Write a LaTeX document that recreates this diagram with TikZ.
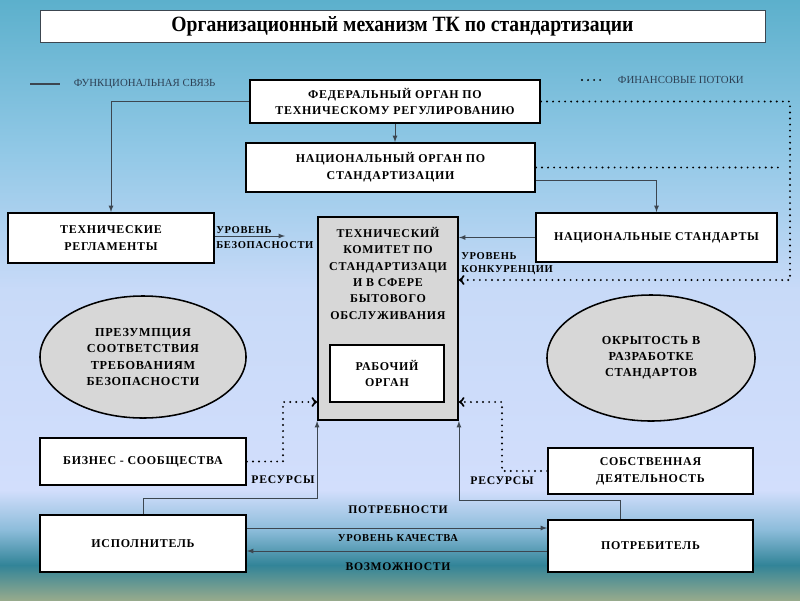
\documentclass[tikz,border=0pt]{standalone}
\usepackage{fontspec}
\setmainfont{Liberation Serif}
\newfontfamily\boxfont[LetterSpace=6]{Liberation Serif}
\newfontfamily\titlefont[FakeStretch=0.9]{Liberation Serif}
\usetikzlibrary{arrows,positioning,shapes.geometric}

\definecolor{bgA}{RGB}{92,176,204}
\definecolor{bgB}{RGB}{145,200,230}
\definecolor{bgC}{RGB}{200,218,248}
\definecolor{bgD}{RGB}{210,222,252}
\definecolor{bgE}{RGB}{140,188,218}
\definecolor{bgF}{RGB}{50,132,152}
\definecolor{bgG}{RGB}{150,170,140}
\definecolor{linkgray}{RGB}{60,70,80}
\definecolor{legendtext}{RGB}{45,65,85}
\definecolor{ovalgray}{RGB}{215,215,215}

\begin{document}
\begin{tikzpicture}[x=0.025cm,y=-0.025cm,>=latex,
	box/.style={draw,line width=1.3pt,fill=white,align=center,inner sep=0pt,
		font=\boxfont\bfseries\fontsize{8.5}{12}\selectfont},
	oval/.style={ellipse,draw,line width=1.1pt,fill=ovalgray,align=center,inner sep=0pt,
		font=\boxfont\bfseries\fontsize{8.7}{11.4}\selectfont},
	lbl/.style={font=\boxfont\bfseries\fontsize{7.5}{9}\selectfont,inner sep=0pt},
	biglbl/.style={font=\boxfont\bfseries\fontsize{8.3}{9}\selectfont,inner sep=0pt},
	link/.style={draw=linkgray,line width=.6pt,->},
	money/.style={line width=1.5pt,line cap=round,dash pattern=on 0pt off 4.3pt,>=to,->}]
	% background
	\shade[top color=bgA,bottom color=bgB] (0,0) rectangle (800,150);
	\shade[top color=bgB,bottom color=bgC] (0,150) rectangle (800,290);
	\shade[top color=bgC,bottom color=bgD] (0,290) rectangle (800,490);
	\shade[top color=bgD,bottom color=bgE] (0,490) rectangle (800,530);
	\shade[top color=bgE,bottom color=bgF] (0,530) rectangle (800,565);
	\shade[top color=bgF,bottom color=bgG] (0,565) rectangle (800,600);
	\useasboundingbox (0,0) rectangle (800,600);

	\node[draw=linkgray,fill=white,minimum width=18.125cm,minimum height=.8cm,
		font=\titlefont\bfseries\fontsize{15.5}{17}\selectfont] (title) at (402.5,26)
		{Организационный механизм ТК по стандартизации};

	% legend
	\draw[linkgray,thick] (30,84) -- (60,84);
	\node[anchor=west,legendtext,font=\fontsize{7.7}{9}\selectfont] (leg1) at (69,84) {ФУНКЦИОНАЛЬНАЯ СВЯЗЬ};
	\draw[money,-] (582,80) -- (600.5,80);
	\node[anchor=west,legendtext,font=\fontsize{7.7}{9}\selectfont] (leg2) at (613,80) {ФИНАНСОВЫЕ ПОТОКИ};

	% boxes
	\node[box,minimum width=7.25cm,minimum height=1.075cm] (fed) at (395,101.5)
		{ФЕДЕРАЛЬНЫЙ ОРГАН ПО\\ТЕХНИЧЕСКОМУ РЕГУЛИРОВАНИЮ};
	\node[box,minimum width=7.225cm,minimum height=1.225cm] (nat) at (390.5,167.5)
		{НАЦИОНАЛЬНЫЙ ОРГАН ПО\\СТАНДАРТИЗАЦИИ};
	\node[box,minimum width=5.15cm,minimum height=1.25cm] (treg) at (111,238)
		{ТЕХНИЧЕСКИЕ\\РЕГЛАМЕНТЫ};
	\node[box,minimum width=6.025cm,minimum height=1.225cm] (nstd) at (656.5,237.5)
		{НАЦИОНАЛЬНЫЕ СТАНДАРТЫ};
	\node[box,fill=ovalgray,minimum width=3.5cm,minimum height=5.075cm] (tc) at (388,318.5) {};
	\node[anchor=north,align=center,font=\boxfont\bfseries\fontsize{8.5}{11.7}\selectfont] (tctext) at (388,222)
		{ТЕХНИЧЕСКИЙ\\КОМИТЕТ ПО\\СТАНДАРТИЗАЦИ\\И В СФЕРЕ\\БЫТОВОГО\\ОБСЛУЖИВАНИЯ};
	\node[box,minimum width=2.85cm,minimum height=1.425cm] (work) at (387,373.5) {РАБОЧИЙ\\ОРГАН};
	\node[oval,minimum width=5.15cm,minimum height=3.05cm] (presump) at (143,357)
		{ПРЕЗУМПЦИЯ\\СООТВЕТСТВИЯ\\ТРЕБОВАНИЯМ\\БЕЗОПАСНОСТИ};
	\node[oval,minimum width=5.2cm,minimum height=3.15cm] (open) at (651,358)
		{ОКРЫТОСТЬ В\\РАЗРАБОТКЕ\\СТАНДАРТОВ};
	\node[box,minimum width=5.15cm,minimum height=1.175cm] (biz) at (143,461.5) {БИЗНЕС - СООБЩЕСТВА};
	\node[box,minimum width=5.125cm,minimum height=1.15cm] (own) at (650.5,471)
		{СОБСТВЕННАЯ\\ДЕЯТЕЛЬНОСТЬ};
	\node[box,minimum width=5.15cm,minimum height=1.425cm] (isp) at (143,543.5) {ИСПОЛНИТЕЛЬ};
	\node[box,minimum width=5.125cm,minimum height=1.3cm] (potr) at (650.5,546) {ПОТРЕБИТЕЛЬ};

	% labels
	\node[lbl,anchor=west] (safe1) at (216,230) {УРОВЕНЬ};
	\node[lbl,anchor=west] (safe2) at (216,245) {БЕЗОПАСНОСТИ};
	\node[lbl,anchor=west] (comp1) at (461,256) {УРОВЕНЬ};
	\node[lbl,anchor=west] (comp2) at (461,270) {КОНКУРЕНЦИИ};
	\node[biglbl] (resleft) at (283,480) {РЕСУРСЫ};
	\node[biglbl] (resright) at (502,481) {РЕСУРСЫ};
	\node[biglbl] (needs) at (398,510) {ПОТРЕБНОСТИ};
	\node[lbl] (quality) at (398,538) {УРОВЕНЬ КАЧЕСТВА};
	\node[biglbl] (abil) at (398,567) {ВОЗМОЖНОСТИ};

	% functional links
	\coordinate (safeend) at (285,236);
	\draw[link] (fed.west) -| (treg.north);
	\draw[link] (fed.south) -- (fed.south |- nat.north);
	\draw[link] (nat.east |- 0,180) -| (nstd.north);
	\draw[link] (nstd.west) -- (nstd.west -| tc.east);
	\draw[link] (treg.east |- safeend) -- (safeend);
	\draw[link] (isp.north) |- (tc.south west |- 0,498) -- (tc.south west);
	\draw[link] (potr.north -| 620,0) |- (tc.south east |- 0,500) -- (tc.south east);
	\draw[link] (isp.east |- 0,528) -- (potr.west |- 0,528);
	\draw[link] (potr.west |- 0,551) -- (isp.east |- 0,551);

	% money flows
	\coordinate (rim) at (790,101.5);
	\coordinate (rimend) at (778,167.5);
	\draw[money] (fed.east) -- (rim) |- (tc.east |- 0,280);
	\draw[money,-] (nat.east) -- (rimend);
	\draw[money] (biz.east) -| (283,402) -- (tc.west |- 0,402);
	\draw[money] (own.west) -| (502,402) -- (tc.east |- 0,402);
\end{tikzpicture}
\end{document}
